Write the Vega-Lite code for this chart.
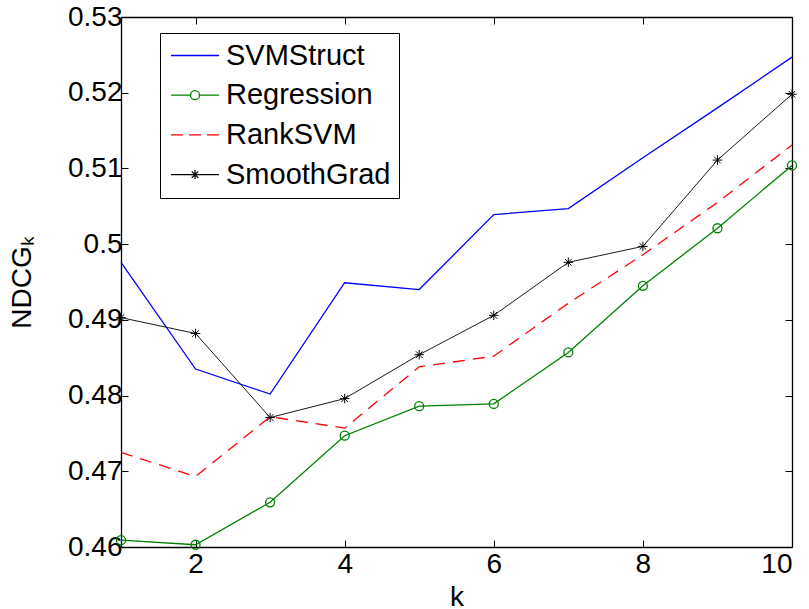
{
  "$schema": "https://vega.github.io/schema/vega-lite/v6.json",
  "width": 671,
  "height": 530,
  "autosize": "none",
  "padding": {"left": 121, "top": 17, "right": 17, "bottom": 62},
  "background": "white",
  "config": {
    "view": {"stroke": null},
    "axis": {
      "labelFont": "Liberation Sans", "labelFontSize": 28, "labelColor": "black",
      "titleFont": "Liberation Sans", "titleFontSize": 28, "titleFontWeight": "normal", "titleColor": "black",
      "domainColor": "black", "domainWidth": 1.3, "tickColor": "black", "tickWidth": 1, "tickSize": -7, "grid": false
    },
    "legend": {
      "labelFont": "Liberation Sans", "labelFontSize": 29, "labelColor": "black", "labelLimit": 400,
      "strokeColor": "black", "fillColor": "white", "padding": 8,
      "symbolSize": 100, "symbolStrokeWidth": 1.3, "symbolOffset": 12.5, "labelOffset": 16.5,
      "rowPadding": 9.7, "symbolOpacity": 1, "symbolFillColor": "transparent"
    }
  },
  "data": {"values": [
    {"k": 1, "series": "SVMStruct", "value": 0.4976},
    {"k": 2, "series": "SVMStruct", "value": 0.4835},
    {"k": 3, "series": "SVMStruct", "value": 0.4802},
    {"k": 4, "series": "SVMStruct", "value": 0.4949},
    {"k": 5, "series": "SVMStruct", "value": 0.4940},
    {"k": 6, "series": "SVMStruct", "value": 0.5039},
    {"k": 7, "series": "SVMStruct", "value": 0.5047},
    {"k": 8, "series": "SVMStruct", "value": 0.5114},
    {"k": 9, "series": "SVMStruct", "value": 0.5180},
    {"k": 10, "series": "SVMStruct", "value": 0.5247},
    {"k": 1, "series": "Regression", "value": 0.4609},
    {"k": 2, "series": "Regression", "value": 0.4603},
    {"k": 3, "series": "Regression", "value": 0.4659},
    {"k": 4, "series": "Regression", "value": 0.4747},
    {"k": 5, "series": "Regression", "value": 0.4786},
    {"k": 6, "series": "Regression", "value": 0.4789},
    {"k": 7, "series": "Regression", "value": 0.4857},
    {"k": 8, "series": "Regression", "value": 0.4945},
    {"k": 9, "series": "Regression", "value": 0.5021},
    {"k": 10, "series": "Regression", "value": 0.5104},
    {"k": 1, "series": "RankSVM", "value": 0.4725},
    {"k": 2, "series": "RankSVM", "value": 0.4693},
    {"k": 3, "series": "RankSVM", "value": 0.4772},
    {"k": 4, "series": "RankSVM", "value": 0.4757},
    {"k": 5, "series": "RankSVM", "value": 0.4838},
    {"k": 6, "series": "RankSVM", "value": 0.4852},
    {"k": 7, "series": "RankSVM", "value": 0.4922},
    {"k": 8, "series": "RankSVM", "value": 0.4986},
    {"k": 9, "series": "RankSVM", "value": 0.5055},
    {"k": 10, "series": "RankSVM", "value": 0.5131},
    {"k": 1, "series": "SmoothGrad", "value": 0.4903},
    {"k": 2, "series": "SmoothGrad", "value": 0.4882},
    {"k": 3, "series": "SmoothGrad", "value": 0.4771},
    {"k": 4, "series": "SmoothGrad", "value": 0.4796},
    {"k": 5, "series": "SmoothGrad", "value": 0.4854},
    {"k": 6, "series": "SmoothGrad", "value": 0.4906},
    {"k": 7, "series": "SmoothGrad", "value": 0.4976},
    {"k": 8, "series": "SmoothGrad", "value": 0.4997},
    {"k": 9, "series": "SmoothGrad", "value": 0.5111},
    {"k": 10, "series": "SmoothGrad", "value": 0.5198}
  ]},
  "resolve": {"axis": {"x": "independent", "y": "independent"}},
  "layer": [
    {
      "transform": [{"filter": "datum.series === 'SVMStruct'"}],
      "mark": {"type": "line", "strokeWidth": 1.3, "color": "#0000ff"},
      "encoding": {
        "x": {"field": "k", "type": "quantitative",
              "scale": {"domain": [1, 10], "nice": false, "zero": false},
              "axis": {"orient": "bottom", "values": [2, 4, 6, 8, 10], "title": "k", "labelPadding": 10, "titlePadding": 5}},
        "y": {"field": "value", "type": "quantitative",
              "scale": {"domain": [0.46, 0.53], "nice": false, "zero": false},
              "axis": {"orient": "left", "values": [0.46, 0.47, 0.48, 0.49, 0.5, 0.51, 0.52, 0.53], "format": ".2~f",
                       "title": "NDCGₖ", "labelPadding": 6, "titlePadding": 31}}
      }
    },
    {
      "transform": [{"filter": "datum.series === 'Regression'"}],
      "mark": {"type": "line", "strokeWidth": 1.3, "color": "#008000"},
      "encoding": {
        "x": {"field": "k", "type": "quantitative", "axis": null},
        "y": {"field": "value", "type": "quantitative", "axis": null}
      }
    },
    {
      "transform": [{"filter": "datum.series === 'RankSVM'"}],
      "mark": {"type": "line", "strokeWidth": 1.3, "color": "#ff0000", "strokeDash": [12, 8]},
      "encoding": {
        "x": {"field": "k", "type": "quantitative", "axis": null},
        "y": {"field": "value", "type": "quantitative", "axis": null}
      }
    },
    {
      "transform": [{"filter": "datum.series === 'SmoothGrad'"}],
      "mark": {"type": "line", "strokeWidth": 0.9, "color": "#000000"},
      "encoding": {
        "x": {"field": "k", "type": "quantitative", "axis": null},
        "y": {"field": "value", "type": "quantitative", "axis": null}
      }
    },
    {
      "transform": [{"filter": "datum.series === 'Regression'"}],
      "mark": {"type": "point", "shape": "circle", "size": 81, "filled": false, "color": "#008000", "strokeWidth": 1.3, "opacity": 1},
      "encoding": {
        "x": {"field": "k", "type": "quantitative", "axis": null},
        "y": {"field": "value", "type": "quantitative", "axis": null}
      }
    },
    {
      "transform": [{"filter": "datum.series === 'SmoothGrad'"}],
      "mark": {"type": "point", "shape": "M-1,0H1M0,-1V1M-0.7,-0.7L0.7,0.7M-0.7,0.7L0.7,-0.7", "size": 90, "filled": false, "color": "#000000", "strokeWidth": 1, "opacity": 1},
      "encoding": {
        "x": {"field": "k", "type": "quantitative", "axis": null},
        "y": {"field": "value", "type": "quantitative", "axis": null}
      }
    },
    {
      "mark": {"type": "point", "filled": false, "opacity": 0},
      "encoding": {
        "x": {"field": "k", "type": "quantitative", "axis": null},
        "y": {"field": "value", "type": "quantitative", "axis": null},
        "color": {"field": "series", "type": "nominal",
                  "scale": {"domain": ["SVMStruct", "Regression", "RankSVM", "SmoothGrad"], "range": ["#0000ff", "#008000", "#ff0000", "#000000"]},
                  "legend": {"orient": "none", "legendX": 39, "legendY": 16, "title": null}},
        "shape": {"field": "series", "type": "nominal",
                  "scale": {"domain": ["SVMStruct", "Regression", "RankSVM", "SmoothGrad"],
                            "range": [
                              "M-4.8,0H4.8",
                              "M-4.8,0H-0.9M0.9,0H4.8M-0.9,0A0.9,0.9 0 1,1 0.9,0A0.9,0.9 0 1,1 -0.9,0",
                              "M-4.8,0H-2.4M-1.2,0H1.2M2.4,0H4.8",
                              "M-4.8,0H4.8M0,-0.9V0.9M-0.65,-0.65L0.65,0.65M-0.65,0.65L0.65,-0.65"
                            ]},
                  "legend": {"orient": "none", "legendX": 39, "legendY": 16, "title": null}}
      }
    },
    {
      "mark": {"type": "point", "opacity": 0},
      "encoding": {
        "x": {"field": "k", "type": "quantitative",
              "axis": {"orient": "top", "values": [2, 4, 6, 8, 10], "labels": false, "title": null}},
        "y": {"field": "value", "type": "quantitative",
              "axis": {"orient": "right", "values": [0.46, 0.47, 0.48, 0.49, 0.5, 0.51, 0.52, 0.53], "labels": false, "title": null}}
      }
    }
  ]
}
